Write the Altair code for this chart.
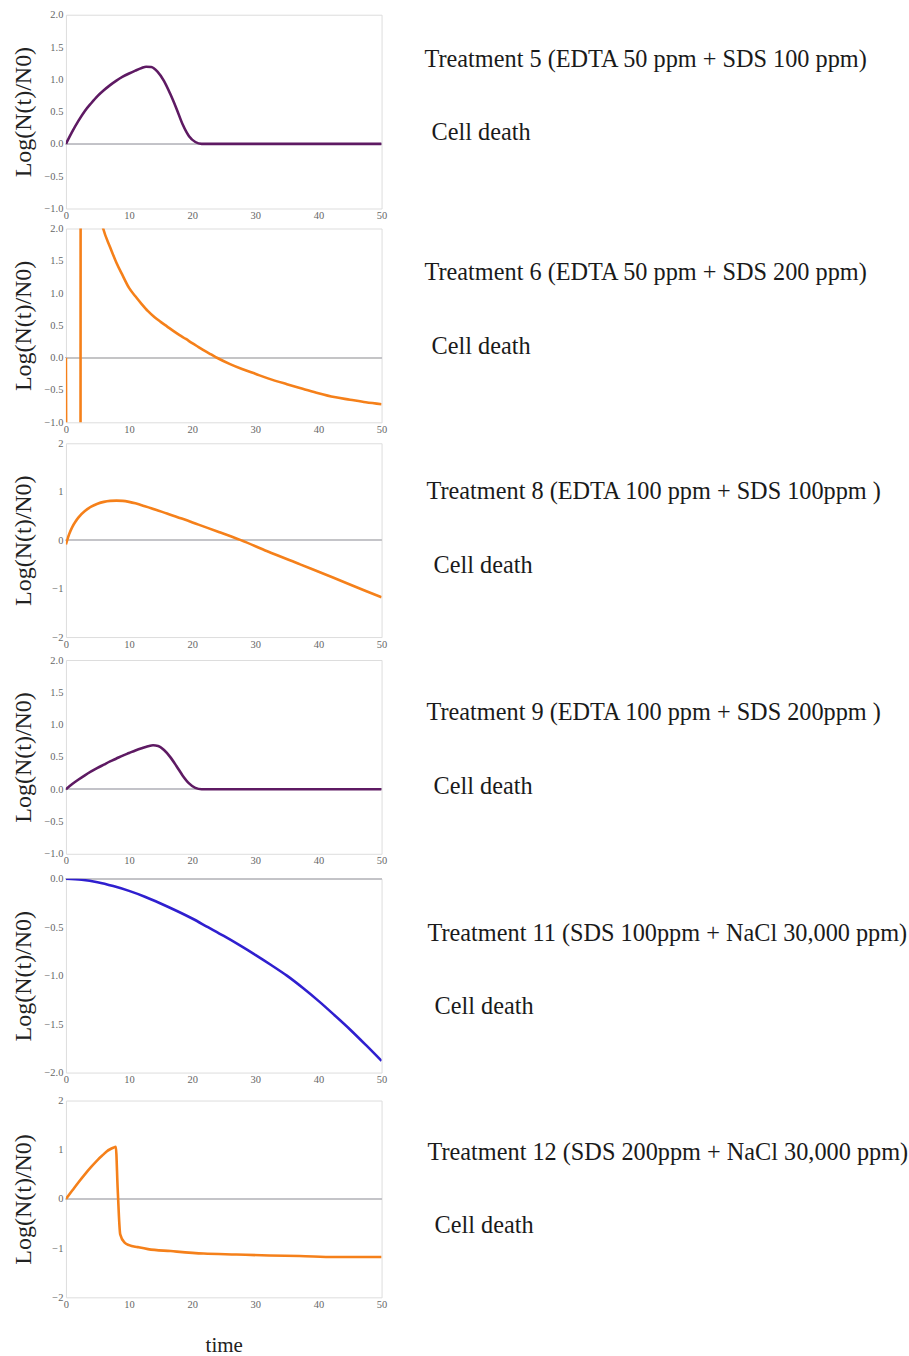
import altair as alt
import pandas as pd

# ---------------- data ----------------
t5 = [0, 1, 2, 3, 4, 5, 6, 7, 8, 9, 10, 11, 12, 12.7, 13.5, 14.5, 15.5, 16.5, 17.5, 18.5, 19.5, 20.5, 21.5, 30, 40, 50]
y5 = [0, 0.19, 0.36, 0.51, 0.63, 0.74, 0.83, 0.91, 0.98, 1.04, 1.09, 1.135, 1.175, 1.195, 1.19, 1.12, 0.98, 0.78, 0.55, 0.3, 0.12, 0.03, 0, 0, 0, 0]

t6 = [0, 0.15, 2.3, 2.35, 3.5, 5, 5.9, 7, 8, 9, 10, 11, 12, 13, 14, 15, 16, 17, 18, 19, 20, 21, 22, 23, 24, 26, 28, 30, 32, 35, 37.5, 40, 42.5, 45, 47.5, 50]
y6 = [0, -3, -3, 6, 3.2, 2.4, 2.0, 1.71, 1.47, 1.27, 1.08, 0.95, 0.83, 0.72, 0.63, 0.555, 0.485, 0.415, 0.35, 0.29, 0.225, 0.165, 0.105, 0.05, -0.005, -0.1, -0.18, -0.25, -0.32, -0.41, -0.48, -0.55, -0.61, -0.65, -0.69, -0.72]

t8 = [0, 0.5, 1, 1.5, 2, 3, 4, 5, 6, 7, 8, 9, 10, 11, 12, 13.5, 16, 18.7, 21, 24, 27.7, 31.9, 37.1, 42.3, 47.5, 50]
y8 = [-0.09, 0.12, 0.27, 0.38, 0.47, 0.6, 0.69, 0.75, 0.79, 0.81, 0.815, 0.81, 0.79, 0.76, 0.72, 0.66, 0.55, 0.43, 0.32, 0.18, 0, -0.23, -0.5, -0.77, -1.05, -1.18]

t9 = [0, 1, 2, 3, 4, 5, 6, 7, 8, 9, 10, 11, 12, 13, 13.8, 14.6, 15.5, 16.5, 17.5, 18.5, 19.5, 20.5, 21.5, 30, 40, 50]
y9 = [0, 0.08, 0.15, 0.215, 0.275, 0.33, 0.38, 0.43, 0.475, 0.52, 0.56, 0.6, 0.635, 0.665, 0.68, 0.67, 0.61, 0.5, 0.36, 0.21, 0.09, 0.02, 0, 0, 0, 0]

t11 = [0, 2.5, 5, 7.5, 10, 12.5, 15, 17.5, 20, 22.5, 25, 27.5, 30, 32.5, 35, 37.5, 40, 42.5, 45, 47.5, 50]
y11 = [0, -0.01, -0.035, -0.075, -0.125, -0.185, -0.255, -0.33, -0.41, -0.5, -0.59, -0.685, -0.785, -0.89, -1.0, -1.125, -1.26, -1.405, -1.555, -1.715, -1.88]

t12 = [0, 1, 2, 3, 4, 5, 6, 6.5, 7, 7.5, 7.9, 8.2, 8.6, 9.3, 10, 11.4, 13, 16.6, 21.8, 27, 32.2, 37, 42.6, 50]
y12 = [0, 0.17, 0.34, 0.5, 0.65, 0.79, 0.91, 0.97, 1.01, 1.04, 1.06, 0.2, -0.72, -0.89, -0.94, -0.98, -1.02, -1.06, -1.11, -1.13, -1.15, -1.16, -1.18, -1.18]

titles = [
    "Treatment 5 (EDTA 50 ppm + SDS 100 ppm)",
    "Treatment 6 (EDTA 50 ppm + SDS 200 ppm)",
    "Treatment 8 (EDTA 100 ppm + SDS 100ppm )",
    "Treatment 9 (EDTA 100 ppm + SDS 200ppm )",
    "Treatment 11 (SDS 100ppm + NaCl 30,000 ppm)",
    "Treatment 12 (SDS 200ppm + NaCl 30,000 ppm)",
]
note = "Cell death"

x_ticks = [0, 10, 20, 30, 40, 50]
yt_a = [-1.0, -0.5, 0.0, 0.5, 1.0, 1.5, 2.0]
yt_b = [-2, -1, 0, 1, 2]
yt_c = [-2.0, -1.5, -1.0, -0.5, 0.0]

ORANGE = "#F5801A"
PURPLE = "#5E1A63"
BLUE = "#2F1FCF"

panels = [
    (t5, y5, PURPLE, [-1, 2], yt_a, ".1f"),
    (t6, y6, ORANGE, [-1, 2], yt_a, ".1f"),
    (t8, y8, ORANGE, [-2, 2], yt_b, "d"),
    (t9, y9, PURPLE, [-1, 2], yt_a, ".1f"),
    (t11, y11, BLUE, [-2, 0], yt_c, ".1f"),
    (t12, y12, ORANGE, [-2, 2], yt_b, "d"),
]
# text offsets (title_y, note_y, title_x) inside each row
text_pos = [(45, 118, 359), (45, 119, 359), (49, 123, 361), (53, 127, 361), (55, 128, 362), (53, 126, 362)]
# extra room above each row (sets the gap between panels)
top_room = [0, 6, 7, 9, 11, 14]

W, H = 316, 194
SERIF = "Liberation Serif"

rows = []
for i, (tx, ty, col, dom, yt, fmt) in enumerate(panels):
    df = pd.DataFrame({"t": tx, "v": ty})
    last = i == len(panels) - 1
    h = 197 if last else H
    xaxis = alt.Axis(
        values=x_ticks, tickCount=len(x_ticks), ticks=False, domain=False, grid=False, labelPadding=2,
        labelFont=SERIF, labelFontSize=10.5, labelColor="#666", labelOverlap=False, labelFlush=False,
        title="time" if last else None, titleFont=SERIF, titleFontSize=21,
        titleFontWeight="normal", titleColor="#222", titlePadding=25,
    )
    yaxis = alt.Axis(
        values=yt, tickCount=len(yt), format=fmt, ticks=False, domain=False, grid=False, labelPadding=3,
        labelFont=SERIF, labelFontSize=10.5, labelColor="#666", labelOverlap=False,
        title="Log(N(t)/N0)", titleFont=SERIF, titleFontSize=24, titleFontWeight="normal",
        titleColor="#222", titleX=-42, titleY=h / 2, titleAngle=270,
        titleAlign="center", titleBaseline="middle",
    )
    x = alt.X("t:Q", scale=alt.Scale(domain=[0, 50], nice=False), axis=xaxis)
    y = alt.Y("v:Q", scale=alt.Scale(domain=dom, nice=False, zero=False), axis=yaxis)

    line = alt.Chart(df).mark_line(color=col, strokeWidth=2.6, clip=True, interpolate="monotone").encode(x=x, y=y)
    zero = alt.Chart(df).mark_rule(color="#c4c4c8", strokeWidth=1).encode(y=alt.datum(0))
    tyy, nyy, txx = text_pos[i]
    ttl = alt.Chart(pd.DataFrame({"s": [titles[i]]})).mark_text(
        align="left", baseline="middle", font=SERIF, fontSize=24.3, color="#1a1a1a"
    ).encode(text="s:N", x=alt.value(txx), y=alt.value(tyy))
    nt = alt.Chart(pd.DataFrame({"s": [note]})).mark_text(
        align="left", baseline="middle", font=SERIF, fontSize=24.3, color="#1a1a1a"
    ).encode(text="s:N", x=alt.value(txx + 7), y=alt.value(nyy))
    layers = [zero, line, ttl, nt]
    if top_room[i] > 0:
        pad = alt.Chart(pd.DataFrame({"s": [0]})).mark_rule(opacity=0).encode(
            x=alt.value(0), y=alt.value(-top_room[i]), y2=alt.value(0))
        layers.append(pad)
    rows.append(alt.layer(*layers).properties(width=W, height=h))

chart = alt.vconcat(*rows, spacing=0).properties(
    padding={"left": 11, "top": 8, "right": 0, "bottom": 0}
).configure_view(stroke="#c4c4c4", strokeWidth=1).configure(background="white")

chart.save("out.html", embed_options={"renderer": "svg", "actions": False})
